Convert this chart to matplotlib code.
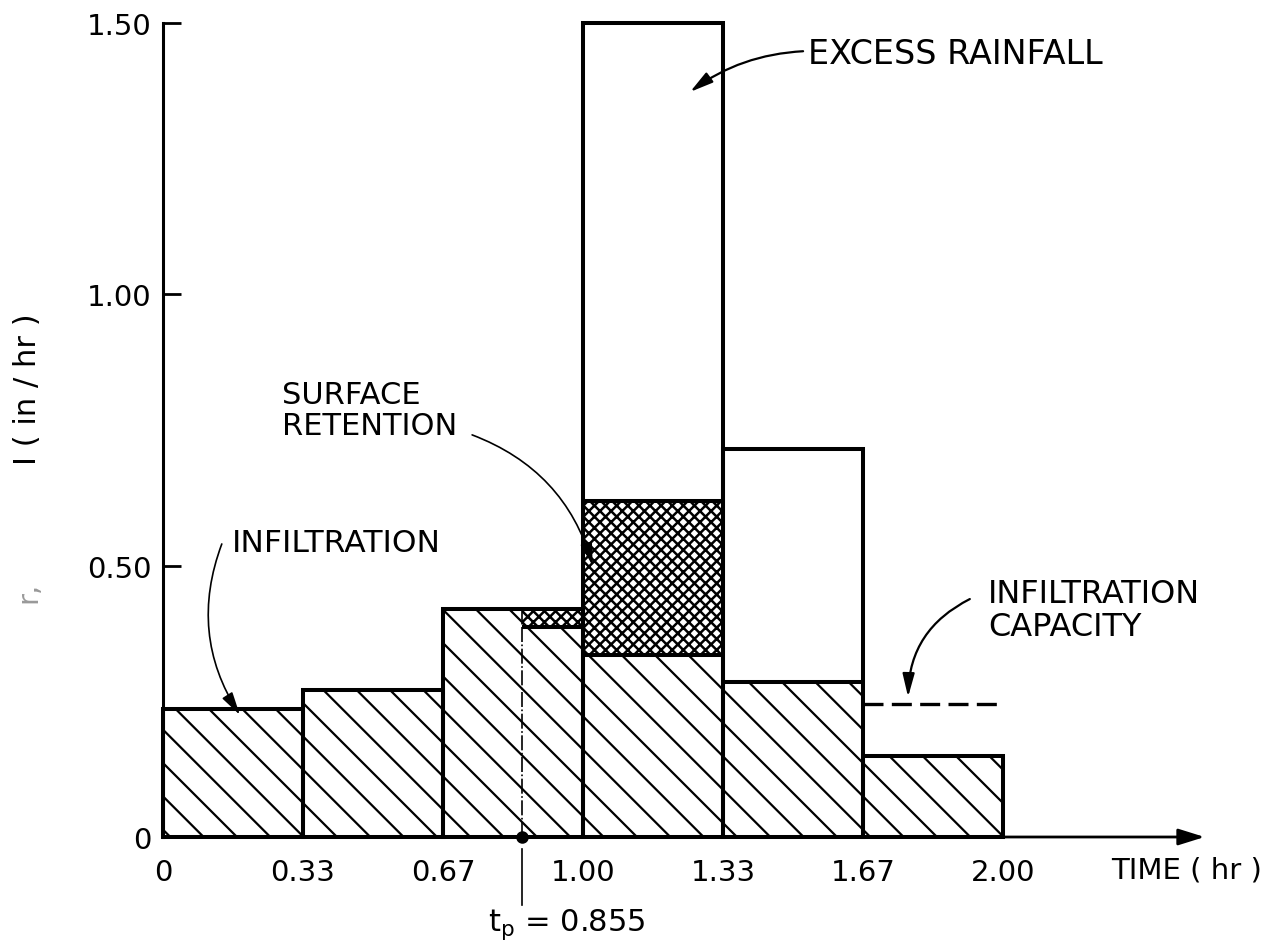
import numpy as np
import matplotlib.pyplot as plt

# rainfall intervals (hr) and rainfall intensity r (in/hr)
edges = [0, 1/3, 2/3, 1.0, 4/3, 5/3, 2.0]
edge_labels = ["0", "0.33", "0.67", "1.00", "1.33", "1.67", "2.00"]
rain = [0.236, 0.27, 0.42, 1.50, 0.715, 0.15]

# time of ponding
t_p = 0.855

# segments split at t_p, stacked: infiltration / surface retention / excess
seg_left = [0, 1/3, 2/3, t_p, 1.0, 4/3, 5/3]
seg_right = [1/3, 2/3, t_p, 1.0, 4/3, 5/3, 2.0]
infiltration = [0.236, 0.27, 0.42, 0.387, 0.335, 0.285, 0.15]
retention = [0, 0, 0, 0.033, 0.285, 0, 0]
excess = [0, 0, 0, 0, 0.88, 0.43, 0]

# infiltration capacity in last interval
cap_x = [5/3, 2.0]
cap_f = 0.245

yticks = [0, 0.5, 1.0, 1.5]
ytick_labels = ["0", "0.50", "1.00", "1.50"]

fs = 10.5
fig = plt.figure(figsize=(6.37, 4.765), dpi=200)
ax = fig.add_axes([163/1274, 115/953, 1050/1274, 814/953])
ax.set_xlim(0, 2.5)
ax.set_ylim(0, 1.5)

left = np.array(seg_left)
width = np.array(seg_right) - left
inf = np.array(infiltration)
ret = np.array(retention)
exc = np.array(excess)

# hatched infiltration
plt.rcParams['hatch.linewidth'] = 0.8
ax.bar(left, inf, width, align='edge', fill=False, hatch='\\\\',
       edgecolor='k', linewidth=0, clip_on=False)
# cross-hatched surface retention
plt.rcParams['hatch.linewidth'] = 0.9
m = ret > 0
ax.bar(left[m], ret[m], width[m], bottom=inf[m], align='edge', fill=False,
       hatch='xxxxxx', edgecolor='k', linewidth=0, clip_on=False)

# outlines
lw = 1.45
ax.bar(edges[:-1], rain, np.diff(edges), align='edge', fill=False,
       edgecolor='k', linewidth=lw, clip_on=False)
above = (ret + exc) > 0
ax.hlines(inf[above], left[above], left[above] + width[above], color='k', lw=lw)
m2 = (ret > 0) & (exc > 0)
ax.hlines((inf + ret)[m2], left[m2], left[m2] + width[m2], color='k', lw=lw)

# infiltration capacity
ax.plot(cap_x, [cap_f, cap_f], color='k', lw=1.2, ls=(0, (6, 2.5)))

# time of ponding
ax.plot([t_p, t_p], [0, rain[2]], color='k', lw=0.6, ls=(0, (9, 1.5, 1, 1.5)))
ax.plot([t_p, t_p], [-0.022, -0.125], color='k', lw=0.6, clip_on=False)
ax.plot([t_p], [0], 'o', color='k', ms=3.5, clip_on=False, zorder=5)
ax.text(0.962, -0.16, r"$\mathregular{t_p}$ = 0.855", ha='center', va='center',
        fontsize=fs + 0.5)

# axes
for s in ['top', 'right', 'bottom']:
    ax.spines[s].set_visible(False)
ax.spines['left'].set_linewidth(1.1)
ax.annotate('', xy=(2.48, 0), xytext=(0, 0), annotation_clip=False,
            arrowprops=dict(arrowstyle='-|>,head_length=0.8,head_width=0.25',
                            lw=1.0, color='k', shrinkA=0, shrinkB=0))
ax.set_xticks(edges, edge_labels)
ax.tick_params(axis='x', length=0, pad=7.5, labelsize=fs)
ax.set_yticks(yticks, ytick_labels)
ax.tick_params(axis='y', direction='in', length=6.5, width=1.0, pad=4,
               labelsize=fs)
ax.text(2.438, -0.059, "TIME ( hr )", ha='center', va='center', fontsize=fs)

fig.text(28/1274, 1 - 592/953, "r,", rotation=90, ha='center', va='center',
         fontsize=fs, color='0.6')
fig.text(28/1274, 1 - 389/953, "I ( in / hr )", rotation=90, ha='center',
         va='center', fontsize=fs + 0.5)

# labels with curved arrows
ap = dict(arrowstyle='-|>,head_length=0.7,head_width=0.18', lw=0.8,
          color='k', shrinkA=0, shrinkB=0)
ax.text(1.536, 1.443, "EXCESS RAINFALL", ha='left', va='center', fontsize=12)
ax.annotate('', xy=(1.255, 1.373), xytext=(1.524, 1.448),
            arrowprops=dict(ap, connectionstyle='arc3,rad=0.15'))

ax.text(0.283, 0.787, "SURFACE\nRETENTION", ha='left', va='center',
        fontsize=11, linespacing=1.1)
ax.annotate('', xy=(1.023, 0.50), xytext=(0.736, 0.741),
            arrowprops=dict(ap, lw=0.6, connectionstyle='arc3,rad=-0.25'))

ax.text(0.164, 0.5436, "INFILTRATION", ha='left', va='center', fontsize=11.3)
ax.annotate('', xy=(0.183, 0.225), xytext=(0.14, 0.54),
            arrowprops=dict(ap, lw=0.6, connectionstyle='arc3,rad=0.25'))

ax.text(1.964, 0.418, "INFILTRATION\nCAPACITY", ha='left', va='center',
        fontsize=11.5, linespacing=1.1)
ax.annotate('', xy=(1.774, 0.258), xytext=(1.921, 0.4385),
            arrowprops=dict(ap, connectionstyle='arc3,rad=0.3'))

fig.savefig("out.png", dpi=200)
